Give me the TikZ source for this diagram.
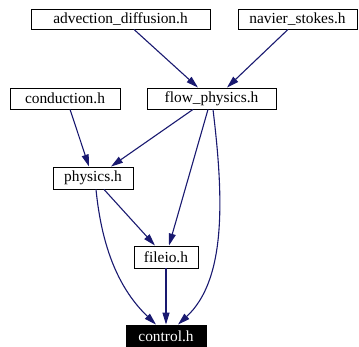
\documentclass[tikz,border=0pt]{standalone}
\usepackage{fontspec}
\setmainfont{Liberation Serif}
\usetikzlibrary{arrows.meta}
\definecolor{edgeblue}{HTML}{191970}
\begin{document}
\begin{tikzpicture}[x=1pt,y=-1pt,
  filebox/.style={draw=black,line width=0.9pt,fill=white,inner sep=0pt,
    font=\fontsize{15.4}{15.4}\selectfont,text=black},
  focusbox/.style={filebox,fill=black,text=white},
  dep/.style={draw=edgeblue,line width=1.1pt,
    -{Triangle[length=12pt,width=7pt]}}]
\useasboundingbox (0,0) rectangle (359,346);
\clip (0,0) rectangle (359,346);

% header files
\node[filebox,minimum width=179pt,minimum height=20pt] (adv)  at (120.5,19)  {advection\_diffusion.h};
\node[filebox,minimum width=119pt,minimum height=20pt] (nav)  at (297.5,19)  {navier\_stokes.h};
\node[filebox,minimum width=110pt,minimum height=21pt] (cond) at (65,98.5)   {conduction.h};
\node[filebox,minimum width=129pt,minimum height=21pt] (flow) at (211.5,98.5) {flow\_physics.h};
\node[filebox,minimum width=80pt,minimum height=22pt]  (phys) at (93,178)    {physics.h};
\node[filebox,minimum width=64pt,minimum height=22pt]  (fio)  at (166,257)   {fileio.h};
\node[focusbox,minimum width=80pt,minimum height=22pt] (ctrl) at (166,336)   {control.h};

% include dependencies
\draw[dep] ([xshift=13.5pt]adv.south) -- ([xshift=-13.5pt]flow.north);
\draw[dep] ([xshift=-9.5pt]nav.south) -- ([xshift=15.5pt]flow.north);
\draw[dep] ([xshift=5pt]cond.south) -- ([xshift=-4pt]phys.north);
\draw[dep] ([xshift=-18.5pt]flow.south) -- ([xshift=18pt]phys.north);
\draw[dep] ([xshift=-3.5pt]flow.south) -- ([xshift=3pt]fio.north);
\draw[dep] ([xshift=1.5pt]flow.south) .. controls (224,200) and (226,280) .. ([xshift=12pt]ctrl.north);
\draw[dep] ([xshift=3pt]phys.south) .. controls (102,250) and (120,290) .. ([xshift=-10pt]ctrl.north);
\draw[dep] ([xshift=11pt]phys.south) -- ([xshift=-11pt]fio.north);
\draw[dep] (fio.south) -- (ctrl.north);
\end{tikzpicture}
\end{document}
